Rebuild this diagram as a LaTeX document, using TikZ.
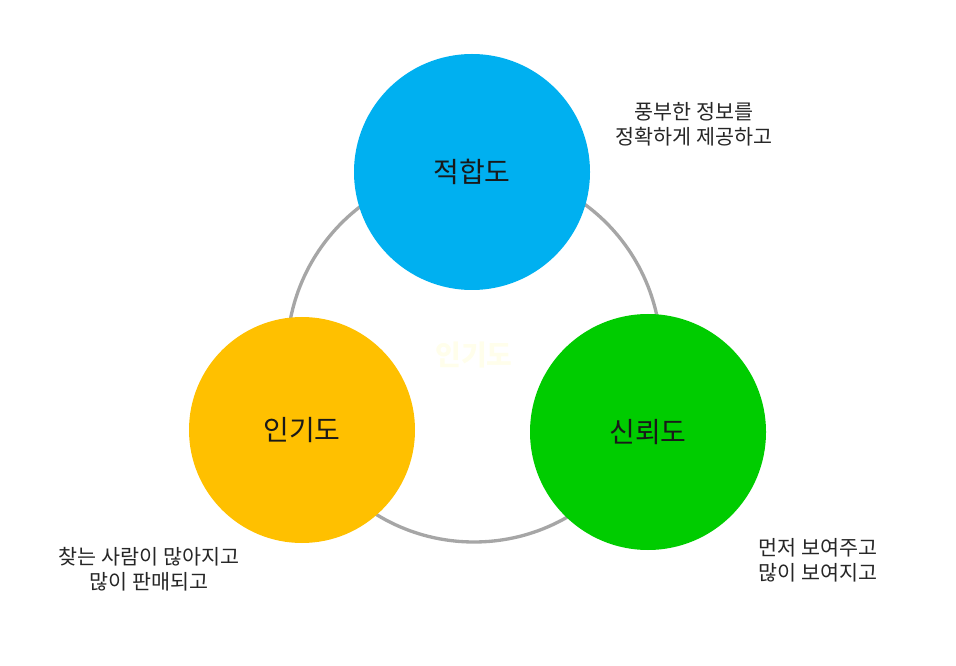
\documentclass[tikz,border=0pt]{standalone}
\usepackage{fontspec}
\setmainfont{Noto Sans CJK KR}
\begin{document}
\begin{tikzpicture}[x=0.75pt,y=-0.75pt,
  bub/.style={circle,inner sep=0pt,text=black!90,font=\fontsize{21}{25}\selectfont},
  note/.style={align=center,font=\fontsize{15.5}{19}\selectfont,text=black!85}]
\useasboundingbox (0,0) rectangle (956,666);
\node[circle,draw=black!35,line width=2.5pt,minimum size=374*0.75pt,inner sep=0pt] (ring) at (474,355) {};
\node[text=yellow!8,font=\fontsize{21}{25}\bfseries\selectfont] (ct) at (474,355) {인기도};
\node[bub,fill={rgb,255:red,0;green,176;blue,240},minimum size=236*0.75pt] (a) at (472,172) {적합도};
\node[bub,fill={rgb,255:red,255;green,192;blue,0},minimum size=226*0.75pt] (b) at (302,430) {인기도};
\node[bub,fill={rgb,255:red,0;green,204;blue,0},minimum size=236*0.75pt] (c) at (648,432) {신뢰도};
\node[note] (na) at (694,124) {풍부한 정보를\\정확하게 제공하고};
\node[note] (nb) at (149,569) {찾는 사람이 많아지고\\많이 판매되고};
\node[note] (nc) at (818,560) {먼저 보여주고\\많이 보여지고};
\end{tikzpicture}
\end{document}
